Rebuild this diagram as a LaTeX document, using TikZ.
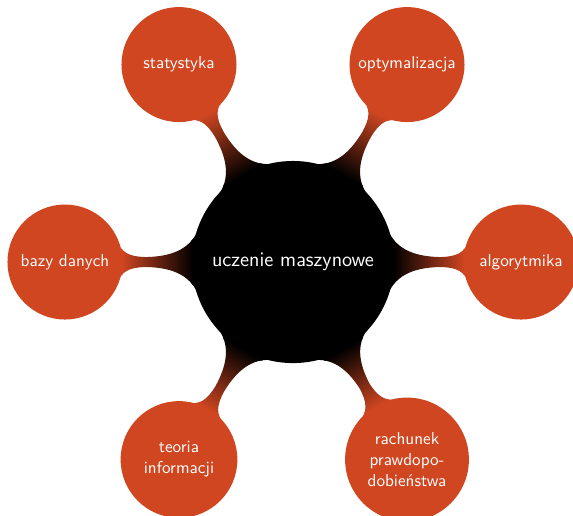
\documentclass[tikz,border=0pt]{standalone}
\usepackage{tikz}
\usetikzlibrary{mindmap}

\definecolor{rdza}{RGB}{207,70,33}

\begin{document}
\begin{tikzpicture}[mindmap, font=\sffamily, text=white]
	\newcommand{\ld}{5}
	\tikzstyle{rdzen}=[concept, concept color=black, minimum size=4.39cm, text width=4cm, align=center, font=\fontsize{12.9}{15.5}\selectfont\sffamily, text=white]
	\tikzstyle{temat}=[concept, concept color=rdza, minimum size=2.48cm, text width=2.3cm, align=center, font=\fontsize{10.7}{13}\selectfont\sffamily, text=white]
	\useasboundingbox (-6.425,-5.548) rectangle (6.14,5.746);
	\node[rdzen] (root) at (0,0) {uczenie maszynowe};
	\foreach \n/\a/\t in {alg/0/algorytmika, opt/60/optymalizacja, stat/120/statystyka, bazy/180/bazy danych, teo/240/teoria informacji, rach/300/rachunek prawdopo\-dobieństwa}
		{\node[temat] (\n) at (\a:\ld) {\t};
		 \path (root) to[circle connection bar switch color=from (black) to (rdza)] (\n); }
\end{tikzpicture}
\end{document}
